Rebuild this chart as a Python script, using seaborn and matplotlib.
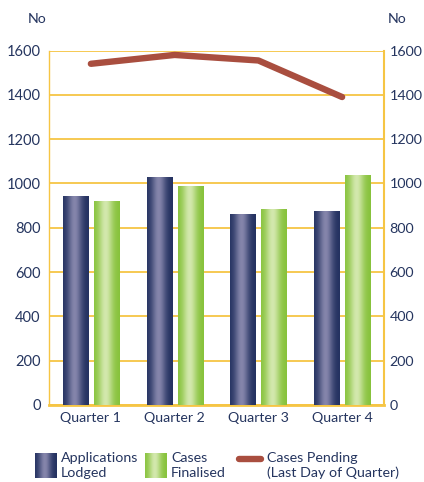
import numpy as np
import pandas as pd
import matplotlib
matplotlib.use("Agg")
import matplotlib.pyplot as plt
from matplotlib.colors import to_rgb
import seaborn as sns

quarters = ["Quarter 1", "Quarter 2", "Quarter 3", "Quarter 4"]
applications_lodged = [945, 1030, 860, 875]
cases_finalised = [920, 990, 885, 1040]
cases_pending = [1540, 1580, 1555, 1390]

series_names = ["Applications\nLodged", "Cases\nFinalised"]
pending_name = "Cases Pending\n(Last Day of Quarter)"
y_ticks = [0, 200, 400, 600, 800, 1000, 1200, 1400, 1600]

TEXT = "#25355f"
GOLD = "#f6c544"
LINE = "#a94e3f"
NAVY_EDGE, NAVY_MID = "#22305f", "#8585ab"
GREEN_EDGE, GREEN_MID = "#86c23a", "#d3e8ad"

sns.set_theme(style="white")
plt.rcParams["font.family"] = ["Lato", "DejaVu Sans"]

df = pd.DataFrame({
    "quarter": quarters * 2,
    "series": [series_names[0]] * len(quarters) + [series_names[1]] * len(quarters),
    "value": applications_lodged + cases_finalised,
})

fig = plt.figure(figsize=(4.24, 4.82), dpi=100)
ax = fig.add_axes([49 / 424, 1 - 405 / 482, (384 - 49) / 424, (405 - 50.5) / 482])

sns.barplot(data=df, x="quarter", y="value", hue="series", order=quarters,
            hue_order=series_names, width=0.74, gap=0.19, legend=False,
            palette=[NAVY_EDGE, GREEN_EDGE], ax=ax, zorder=3)


def gradient_strip(edge, mid, n=64):
    e, m = np.array(to_rgb(edge)), np.array(to_rgb(mid))
    t = np.linspace(0, 1, n)
    f = np.exp(-((t - 0.45) / 0.28) ** 2)
    return (e[None, :] + (m - e)[None, :] * f[:, None])[None, :, :]


strips = [gradient_strip(NAVY_EDGE, NAVY_MID), gradient_strip(GREEN_EDGE, GREEN_MID)]
for i, patch in enumerate(ax.patches):
    x0, y0 = patch.get_x(), patch.get_y()
    w, h = patch.get_width(), patch.get_height()
    img = ax.imshow(strips[i // len(quarters)], extent=[x0, x0 + w, y0, y0 + h],
                    aspect="auto", zorder=3, interpolation="bilinear")
    img.set_clip_path(patch)
    patch.set_facecolor("none")
    patch.set_edgecolor("none")

pos = np.arange(len(quarters))
sns.lineplot(x=pos, y=cases_pending, color=LINE, lw=4.6, ax=ax, zorder=4,
             solid_capstyle="round", solid_joinstyle="round")

ax.set_xlim(-0.5, len(quarters) - 0.5)
ax.set_ylim(0, 1600)
ax.set_yticks(y_ticks)
ax.set_xticks(pos)
ax.set_xticklabels(quarters)
ax.set_xlabel("")
ax.set_ylabel("")
ax.yaxis.grid(True, color=GOLD, lw=1.3, zorder=0)
ax.set_axisbelow(True)
for s in ["top", "right"]:
    ax.spines[s].set_visible(False)
ax.spines["left"].set_color(GOLD)
ax.spines["left"].set_linewidth(1.0)
ax.spines["bottom"].set_color(GOLD)
ax.spines["bottom"].set_linewidth(2.0)
ax.set_xticks(pos[:-1] + 0.5, minor=True)
ax.tick_params(axis="x", which="major", length=0, pad=5, labelsize=10.2, labelcolor=TEXT)
ax.tick_params(axis="x", which="minor", direction="in", length=8, width=1.5, color=GOLD)
ax.tick_params(axis="y", length=0, pad=6, labelsize=10.5, labelcolor=TEXT)

ax2 = ax.twinx()
ax2.set_ylim(0, 1600)
ax2.set_yticks(y_ticks)
for s in ["top", "left", "bottom"]:
    ax2.spines[s].set_visible(False)
ax2.spines["right"].set_color(GOLD)
ax2.spines["right"].set_linewidth(1.5)
ax2.tick_params(axis="y", length=0, pad=4, labelsize=10.3, labelcolor=TEXT)
ax2.grid(False)

fig.text(37 / 424, 1 - 19 / 482, "No", ha="center", va="center", fontsize=10.2, color=TEXT)
fig.text(397 / 424, 1 - 19 / 482, "No", ha="center", va="center", fontsize=10.2, color=TEXT)

# legend swatches and labels
for (x0, x1), strip in zip([(35, 57), (145, 167)], strips):
    sax = fig.add_axes([x0 / 424, 1 - 478 / 482, (x1 - x0) / 424, 25 / 482])
    sax.imshow(strip, aspect="auto", interpolation="bilinear")
    sax.axis("off")
fig.add_artist(plt.Line2D([239 / 424, 261 / 424], [1 - 459 / 482] * 2, color=LINE,
                          lw=4.6, solid_capstyle="round", transform=fig.transFigure))
for x, label in zip([61, 171, 267], series_names + [pending_name]):
    fig.text(x / 424, 1 - 452.5 / 482, label, ha="left", va="top", fontsize=10.3,
             color=TEXT, linespacing=1.22)

fig.savefig("out.png", dpi=100)
